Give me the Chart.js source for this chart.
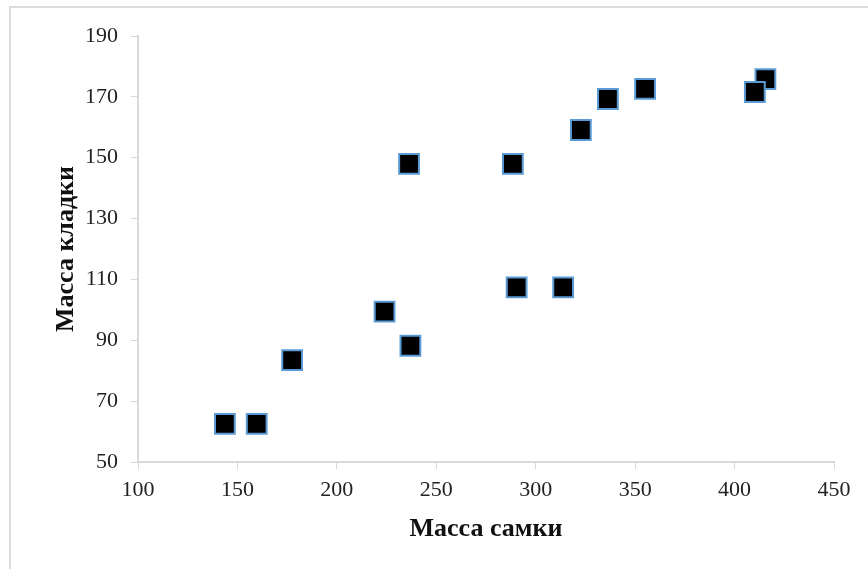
<!DOCTYPE html>
<html lang="ru">
<head>
<meta charset="UTF-8">
<title>Масса самки и масса кладки</title>
<script src="https://cdn.jsdelivr.net/npm/chart.js@4.4.2/dist/chart.umd.min.js"></script>
<style>
    html, body { margin: 0; padding: 0; background: #fff; }
    #wrap { position: relative; width: 868px; height: 569px; }
    /* grey frame along the top and left edge, like the source picture */
    #frame {
        position: absolute; left: 9px; top: 6px; right: 0; bottom: 0;
        border-top: 2px solid #dcdcdc; border-left: 2px solid #dcdcdc;
    }
    canvas { position: absolute; left: 0; top: 0; }
</style>
</head>
<body>
<div id="wrap">
    <div id="frame"></div>
    <canvas id="chart" width="868" height="569"></canvas>
</div>
<script>
// --- data ---
const femaleMass = [143.7, 159.7, 177.5, 224, 237, 236.3, 288.5, 290.4, 313.8, 322.7, 336.3, 355, 415.5, 410.2];
const clutchMass = [62.5, 62.5, 83.5, 99.4, 88.2, 148, 148, 107.4, 107.4, 159.1, 169.3, 172.6, 175.8, 171.6];

const xTitle = 'Масса самки';
const yTitle = 'Масса кладки';

const points = femaleMass.map((x, i) => ({ x: x, y: clutchMass[i] }));

const axisGrey = '#d9d9d9';
const tickFont = { family: 'Liberation Serif', size: 22 };
const titleFont = { family: 'Liberation Serif', size: 26, weight: 'bold' };

new Chart(document.getElementById('chart'), {
    type: 'scatter',
    data: {
        datasets: [{
            data: points,
            pointStyle: 'rect',
            pointRadius: 14,
            pointHoverRadius: 14,
            backgroundColor: '#000',
            borderColor: '#5b9bd5',
            borderWidth: 2
        }]
    },
    options: {
        responsive: false,
        animation: false,
        layout: { padding: { top: 36, right: 34, left: 0, bottom: 0 } },
        plugins: { legend: { display: false }, tooltip: { enabled: false } },
        scales: {
            x: {
                type: 'linear',
                min: 100, max: 450,
                ticks: { stepSize: 50, font: tickFont, color: '#222', padding: 8, maxRotation: 0 },
                grid: { drawOnChartArea: false, drawTicks: true, tickLength: 7, color: axisGrey },
                border: { color: axisGrey, width: 2 },
                title: { display: true, text: xTitle, font: titleFont, color: '#111', padding: { top: 0, bottom: 24 } },
                afterFit: s => { s.height = 107; }
            },
            y: {
                type: 'linear',
                min: 50, max: 190,
                ticks: { stepSize: 20, font: tickFont, color: '#222', padding: 13 },
                grid: { drawOnChartArea: false, drawTicks: true, tickLength: 7, color: axisGrey },
                border: { color: axisGrey, width: 2 },
                title: { display: true, text: yTitle, font: titleFont, color: '#111', padding: { top: 51, bottom: 0 } },
                afterFit: s => { s.width = 138; }
            }
        }
    }
});
</script>
</body>
</html>
